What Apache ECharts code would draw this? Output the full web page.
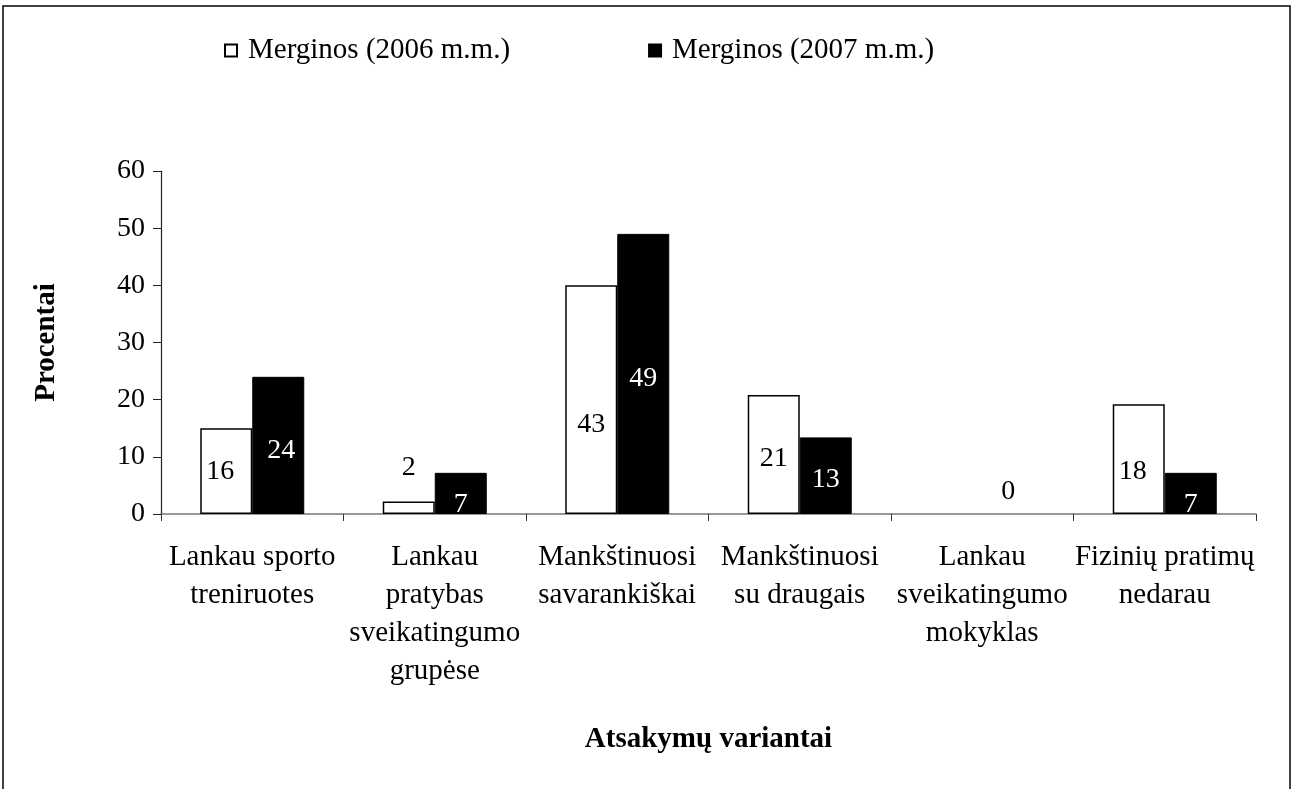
<!DOCTYPE html>
<html>
<head>
<meta charset="utf-8">
<script src="https://cdn.jsdelivr.net/npm/echarts@6/dist/echarts.min.js"></script>
<style>
	html, body { margin: 0; padding: 0; background: #fff; }
	#main { width: 1295px; height: 789px; }
</style>
</head>
<body>
<div id="main"></div>
<script>
var categories = [
	'Lankau sporto\ntreniruotes',
	'Lankau\npratybas\nsveikatingumo\ngrupėse',
	'Mankštinuosi\nsavarankiškai',
	'Mankštinuosi\nsu draugais',
	'Lankau\nsveikatingumo\nmokyklas',
	'Fizinių pratimų\nnedarau'
];
// bar heights as drawn
var values2006 = [15, 2.2, 40, 20.8, 0, 19.2];
var values2007 = [24, 7.2, 49, 13.4, 0, 7.2];
// numbers printed on the bars
var labels2006 = ['16', '2', '43', '21', '', '18'];
var labels2007 = ['24', '7', '49', '13', '0', '7'];
var yTicks = [0, 10, 20, 30, 40, 50, 60];

var font = "'Liberation Serif', 'Times New Roman', serif";

// label nudges [x, y] as placed in the original
var nudge2006 = [[-6, 1], [0, -40], [0, 25], [0, 4], [0, 0], [-6, 13]];
var nudge2007 = [[3, 5], [0, 11], [0, 5], [0, 4], [0, -22], [0, 11]];

function buildData(values, labels, nudge, color) {
	return values.map(function(v, i) {
		var d = {
			value: v,
			label: {
				show: labels[i] !== '',
				formatter: labels[i],
				offset: nudge[i],
				color: (v === 0) ? '#000' : color
			}
		};
		if (v === 0) {
			// an empty bar leaves no outline
			d.itemStyle = { borderWidth: 0, borderColor: 'rgba(0,0,0,0)', color: 'rgba(0,0,0,0)' };
		}
		return d;
	});
}

var myChart = echarts.init(document.getElementById('main'));
var option = {
	animation: false,
	backgroundColor: '#fff',
	textStyle: { fontFamily: font },
	graphic: [{
		type: 'rect',
		shape: { x: 3, y: 6, width: 1287, height: 820 },
		style: { fill: 'none', stroke: '#000', lineWidth: 1.5 },
		silent: true
	}],
	legend: {
		left: 219,
		top: 31,
		itemWidth: 12,
		itemHeight: 12,
		itemGap: 138,
		textStyle: { fontFamily: font, fontSize: 29, color: '#000', padding: [0, 0, 0, 6] },
		data: [
			{ name: 'Merginos (2006 m.m.)', icon: 'rect' },
			{ name: 'Merginos (2007 m.m.)', icon: 'rect' }
		]
	},
	grid: {
		left: 161,
		right: 39,
		top: 171,
		bottom: 275
	},
	xAxis: {
		type: 'category',
		data: categories,
		name: 'Atsakymų variantai',
		nameLocation: 'middle',
		nameGap: 211,
		nameTextStyle: { fontFamily: font, fontSize: 29, fontWeight: 'bold', color: '#000' },
		axisLine: { lineStyle: { color: '#777', width: 1.5 } },
		axisTick: { show: true, length: 7, lineStyle: { color: '#333' } },
		axisLabel: {
			interval: 0,
			margin: 24,
			fontFamily: font,
			fontSize: 29,
			lineHeight: 38,
			color: '#000'
		}
	},
	yAxis: {
		type: 'value',
		min: yTicks[0],
		max: yTicks[yTicks.length - 1],
		interval: 10,
		name: 'Procentai',
		nameLocation: 'middle',
		nameRotate: 90,
		nameGap: 100,
		nameTextStyle: { fontFamily: font, fontSize: 29, fontWeight: 'bold', color: '#000' },
		axisLine: { show: true, lineStyle: { color: '#222', width: 1.2 } },
		axisTick: { show: true, length: 8, lineStyle: { color: '#222' } },
		splitLine: { show: false },
		axisLabel: {
			margin: 16,
			fontFamily: font,
			fontSize: 28,
			color: '#000'
		}
	},
	series: [{
		name: 'Merginos (2006 m.m.)',
		type: 'bar',
		barWidth: 52,
		barGap: '0%',
		itemStyle: { color: '#fff', borderColor: '#000', borderWidth: 1.5 },
		label: { show: true, position: 'inside', fontFamily: font, fontSize: 28 },
		data: buildData(values2006, labels2006, nudge2006, '#000')
	}, {
		name: 'Merginos (2007 m.m.)',
		type: 'bar',
		barWidth: 52,
		barGap: '0%',
		itemStyle: { color: '#000', borderColor: '#000', borderWidth: 1 },
		label: { show: true, position: 'inside', fontFamily: font, fontSize: 28 },
		data: buildData(values2007, labels2007, nudge2007, '#fff')
	}]
};
myChart.setOption(option);
</script>
</body>
</html>
